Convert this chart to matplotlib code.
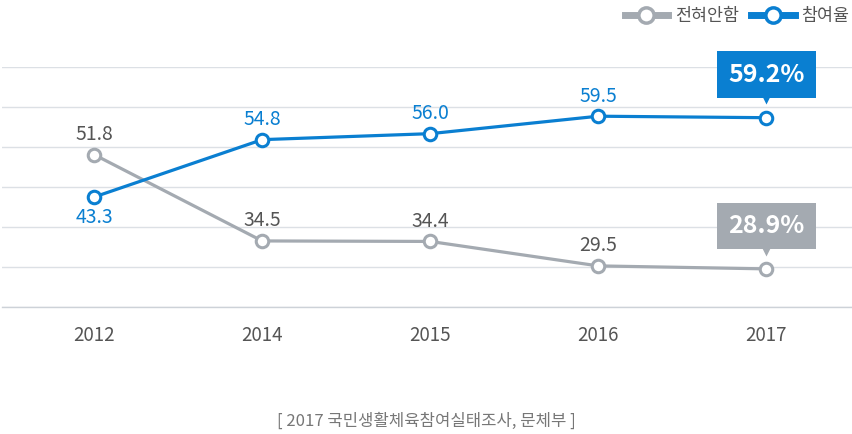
import numpy as np
import matplotlib
matplotlib.use("Agg")
import matplotlib.pyplot as plt
from matplotlib.lines import Line2D
from matplotlib.transforms import offset_copy

plt.rcParams['font.family'] = ['Noto Sans CJK KR', 'DejaVu Sans']

years = ['2012', '2014', '2015', '2016', '2017']
none_rate = [51.8, 34.5, 34.4, 29.5, 28.9]   # 전혀안함
part_rate = [43.3, 54.8, 56.0, 59.5, 59.2]   # 참여율
series_names = ['전혀안함', '참여율']
source = '[ 2017 국민생활체육참여실태조사, 문체부 ]'

blue = '#0A7FD1'
gray = '#A4AAB1'
label_gray = '#555555'

fig = plt.figure(figsize=(8.53, 4.34), dpi=100)
ax = fig.add_axes([2 / 853, 1 - 307.3 / 434, 850 / 853, 240 / 434])

x = np.arange(len(years))
ax.set_xlim(-0.548, 4.51)
ax.set_ylim(21.2, 69.3)
ax.set_yticks(np.linspace(21.2, 69.3, 7))
ax.yaxis.grid(True, color='#DCE0E5', linewidth=1)
ax.set_axisbelow(True)
ax.tick_params(axis='y', left=False, labelleft=False)
ax.tick_params(axis='x', bottom=False, labelsize=13.5, labelcolor=label_gray, pad=9)
ax.set_xticks(x)
ax.set_xticklabels(years)
for s in ['top', 'left', 'right']:
    ax.spines[s].set_visible(False)
ax.spines['bottom'].set_color('#CDD2D8')
ax.spines['bottom'].set_linewidth(1)

ax.plot(x, none_rate, color=gray, lw=2.3, marker='o', ms=9, mfc='white',
        mec=gray, mew=2.2, zorder=3)
ax.plot(x, part_rate, color=blue, lw=2.3, marker='o', ms=9, mfc='white',
        mec=blue, mew=2.2, zorder=4)

# value labels
for i in range(len(years) - 1):
    ax.annotate('{0:.1f}'.format(none_rate[i]), (x[i], none_rate[i]),
                xytext=(0, 14.5), textcoords='offset points', ha='center',
                va='center', fontsize=14, color=label_gray)
    dy = -14.5 if part_rate[i] < none_rate[i] else 14.5
    ax.annotate('{0:.1f}'.format(part_rate[i]), (x[i], part_rate[i]),
                xytext=(0, dy), textcoords='offset points', ha='center',
                va='center', fontsize=14, color=blue)

# highlighted boxes for the last year
for vals, col in [(part_rate, blue), (none_rate, gray)]:
    ax.annotate('{0:.1f}%'.format(vals[-1]), (x[-1], vals[-1]),
                xytext=(0, 31), textcoords='offset points', ha='center',
                va='center', fontsize=18, fontweight='bold', color='white',
                bbox=dict(boxstyle='square,pad=0.45', fc=col, ec='none'))
    tr = offset_copy(ax.transData, fig=fig, y=12.5, units='points')
    ax.plot(x[-1], vals[-1], marker='v', ms=6, color=col, mec='none',
            transform=tr, clip_on=False)

handles = [Line2D([], [], color=c, lw=5, marker='o', ms=11, mfc='white',
                  mec=c, mew=2.5) for c in [gray, blue]]
leg = fig.legend(handles, series_names, loc='upper right',
                 bbox_to_anchor=(1.004, 1.0), ncol=2, frameon=False,
                 fontsize=12.5, handlelength=2.5, columnspacing=0.7,
                 handletextpad=0.4, borderaxespad=0.0)
for t in leg.get_texts():
    t.set_color(label_gray)

fig.text(0.5, 1 - 421 / 434, source, ha='center', va='center',
         fontsize=12, color='#777777')

fig.savefig('out.png', dpi=100)
